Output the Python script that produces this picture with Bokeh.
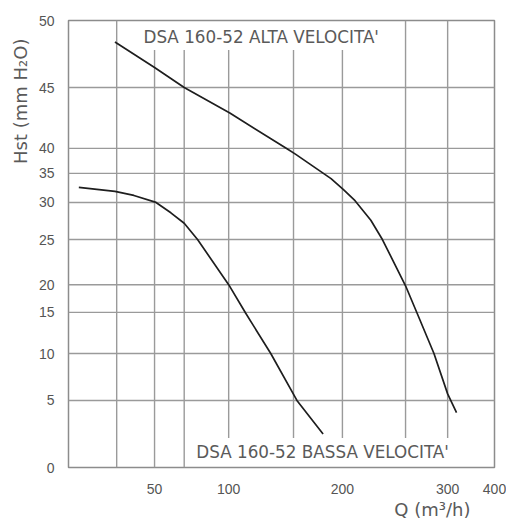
import numpy as np
from bokeh.plotting import figure
from bokeh.models import Range1d, FixedTicker, Label, Title
from bokeh.embed import file_html
from bokeh.resources import INLINE

# ---- scale definition (the chart uses non-uniform axes) ----
q_ticks = [50, 100, 200, 300, 400]
q_tick_labels = ["50", "100", "200", "300", "400"]
q_scale_vals = [0, 50, 100, 200, 300, 400]
q_scale_units = [0.0, 20.2, 37.6, 64.3, 89.0, 100.0]

h_ticks = [0, 5, 10, 15, 20, 25, 30, 35, 40, 45, 50]
h_tick_labels = ["0", "5", "10", "15", "20", "25", "30", "35", "40", "45", "50"]
h_scale_units = [0.0, 15.0, 25.5, 34.7, 40.9, 51.0, 59.3, 65.8, 71.4, 85.0, 100.0]

# vertical grid lines (Q values) and their extents (Hst values)
q_grid = [28, 50, 70, 100, 157, 200, 260, 300]
q_grid_top = [50, 47.8, 47.8, 47.8, 47.8, 47.8, 50, 50]
q_grid_bottom = [0, 0, 0, 2.2, 2.2, 2.2, 2.2, 2.2]
h_grid = [5, 10, 15, 20, 25, 30, 35, 40, 45]

# ---- curves ----
alta_q = [27, 50, 70, 101, 152, 159, 190, 201, 212, 227, 238, 260, 271, 287, 300, 319]
alta_h = [48.4, 46.5, 45.0, 42.9, 39.8, 38.8, 34.1, 32.2, 30.3, 27.6, 25.0, 19.8, 14.9, 10.0, 5.7, 4.1]

bassa_q = [6, 27, 38, 51, 61, 70, 79, 100, 115, 137, 160, 183]
bassa_h = [32.6, 31.9, 31.2, 30.0, 28.6, 27.2, 25.0, 20.0, 14.9, 10.0, 5.0, 2.5]


def qx(q):
    return np.interp(q, q_scale_vals, q_scale_units)


def hy(h):
    return np.interp(h, h_ticks, h_scale_units)


p = figure(width=506, height=520, x_range=Range1d(0, 100), y_range=Range1d(0, 100),
           output_backend="svg", toolbar_location=None,
           min_border_left=68, min_border_right=12, min_border_top=20, min_border_bottom=53)
p.xgrid.visible = False
p.ygrid.visible = False
p.outline_line_color = "#8c8c8c"
p.outline_line_width = 1.5
p.background_fill_color = "white"

grid_col = "#9a9a9a"
# vertical grid segments
p.segment(x0=qx(q_grid), y0=hy(q_grid_bottom), x1=qx(q_grid), y1=hy(q_grid_top),
          line_color=grid_col, line_width=1.4)
# horizontal grid segments
p.segment(x0=qx([0] * len(h_grid)), y0=hy(h_grid), x1=qx([400] * len(h_grid)), y1=hy(h_grid),
          line_color=grid_col, line_width=1.4)

p.line(qx(alta_q), hy(alta_h), line_color="#1e1e1e", line_width=1.7)
p.line(qx(bassa_q), hy(bassa_h), line_color="#1e1e1e", line_width=1.7)

tick_font = "Liberation Sans"
xt = [float(v) for v in qx(q_ticks)]
p.xaxis.ticker = FixedTicker(ticks=xt)
p.xaxis.major_label_overrides = {t: l for t, l in zip(xt, q_tick_labels)}
yt = [float(v) for v in hy(h_ticks)]
p.yaxis.ticker = FixedTicker(ticks=yt)
p.yaxis.major_label_overrides = {t: l for t, l in zip(yt, h_tick_labels)}
for ax in (p.xaxis, p.yaxis):
    ax.axis_line_color = None
    ax.major_tick_line_color = None
    ax.minor_tick_line_color = None
    ax.major_label_text_font = tick_font
    ax.major_label_text_font_size = "14px"
    ax.major_label_text_color = "#555555"
p.xaxis.major_label_standoff = 10
p.yaxis.major_label_standoff = 8

lab_font = "DejaVu Sans"
p.add_layout(Label(x=17.6, y=96.2, text="DSA 160-52 ALTA VELOCITA'", text_font=lab_font,
                   text_font_size="16.8px", text_color="#5a5a5a", text_align="left",
                   text_baseline="middle"))
p.add_layout(Label(x=30.0, y=3.5, text="DSA 160-52 BASSA VELOCITA'", text_font=lab_font,
                   text_font_size="16.8px", text_color="#5a5a5a", text_align="left",
                   text_baseline="middle"))

p.add_layout(Title(text="Hst (mm H₂O)", align="right", offset=18, standoff=9,
                   text_font=lab_font, text_font_size="18px", text_font_style="normal",
                   text_color="#5a5a5a"), "left")
p.add_layout(Title(text="Q (m³/h)", align="right", offset=24, standoff=1,
                   text_font=lab_font, text_font_size="18px", text_font_style="normal",
                   text_color="#5a5a5a"), "below")

open("out.html", "w").write(file_html(p, INLINE))
